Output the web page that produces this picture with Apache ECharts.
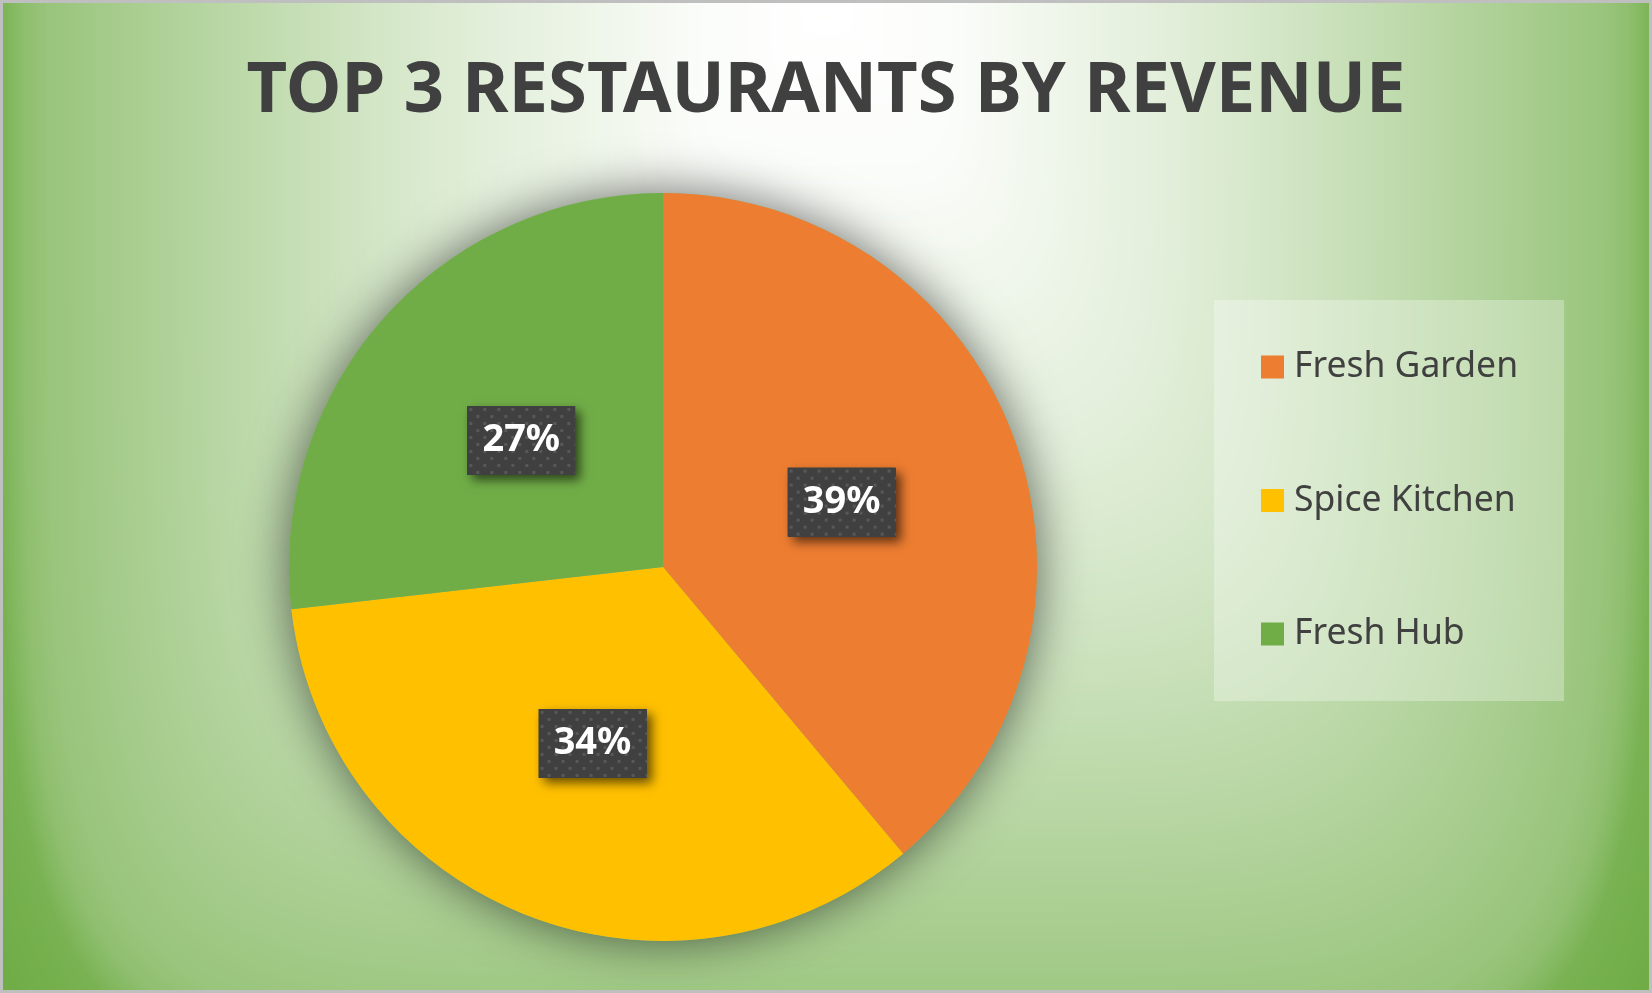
<!DOCTYPE html>
<html>
<head>
<meta charset="utf-8">
<script src="https://cdn.jsdelivr.net/npm/echarts@6/dist/echarts.min.js"></script>
<style>
  html, body { margin: 0; padding: 0; background: #bfbfbf; }
  #chart { position: absolute; left: 3px; top: 3px; width: 1646px; height: 987px; }
</style>
</head>
<body>
<div id="chart"></div>
<script>
const titleText = 'TOP 3 RESTAURANTS BY REVENUE';
const categories = ['Fresh Garden', 'Spice Kitchen', 'Fresh Hub'];
const values = [38.9, 34.3, 26.8];
const colors = ['#ed7d31', '#ffc000', '#70ad47'];

const W = 1646, H = 987;

// background: soft path gradient (white at top centre to green at the edges)
const bg = document.createElement('canvas');
bg.width = W; bg.height = H;
(function () {
  const ctx = bg.getContext('2d');
  const img = ctx.createImageData(W, H);
  const d = img.data;
  const cx = 823, cy = -3, A = 826, B = 1100, p = 6;
  const tS = [0, 0.15, 0.41, 0.55, 0.663, 0.77, 0.866, 0.94, 0.97, 0.99, 1.0, 1.06];
  const sS = [1, 0.97, 0.8, 0.69, 0.58, 0.47, 0.37, 0.29, 0.22, 0.12, 0.06, 0];
  const G = [0x70, 0xad, 0x47];
  function sOf(t) {
    if (t >= tS[tS.length - 1]) return 0;
    for (let i = 1; i < tS.length; i++) {
      if (t <= tS[i]) {
        const f = (t - tS[i - 1]) / (tS[i] - tS[i - 1]);
        return sS[i - 1] + (sS[i] - sS[i - 1]) * f;
      }
    }
    return 0;
  }
  let k = 0;
  for (let y = 0; y < H; y++) {
    const vy = Math.pow(Math.abs(y - cy) / B, p);
    for (let x = 0; x < W; x++) {
      const t = Math.pow(Math.pow(Math.abs(x - cx) / A, p) + vy, 1 / p);
      const s = sOf(t);
      d[k++] = G[0] + (255 - G[0]) * s;
      d[k++] = G[1] + (255 - G[1]) * s;
      d[k++] = G[2] + (255 - G[2]) * s;
      d[k++] = 255;
    }
  }
  ctx.putImageData(img, 0, 0);
})();

// dotted label background
const lblBg = document.createElement('canvas');
lblBg.width = 108; lblBg.height = 69;
(function () {
  const ctx = lblBg.getContext('2d');
  ctx.fillStyle = '#404040';
  ctx.fillRect(0, 0, 108, 69);
  ctx.fillStyle = '#585858';
  for (let r = 0; r * 7 + 2 < 69; r++) {
    for (let x = 2 + (r % 2) * 7; x < 108; x += 14) {
      ctx.fillRect(x, 2 + r * 7, 3, 3);
    }
  }
})();

const chart = echarts.init(document.getElementById('chart'), null, { renderer: 'canvas' });
const center = [660, 564];
const radius = 374;

chart.setOption({
  animation: false,
  backgroundColor: 'transparent',
  graphic: [
    { type: 'image', left: 0, top: 0, z: -100, silent: true,
      style: { image: bg, x: 0, y: 0, width: W, height: H } }
  ],
  title: {
    text: titleText,
    left: 'center',
    top: 53,
    padding: 0,
    textStyle: {
      fontFamily: 'Noto Sans', fontWeight: 'bold', fontSize: 70.5, lineHeight: 71, color: '#404040'
    }
  },
  legend: {
    data: categories,
    orient: 'vertical',
    left: 1211,
    top: 297,
    padding: [47, 46, 47, 47],
    itemGap: 93.5,
    itemWidth: 23,
    itemHeight: 23,
    icon: 'rect',
    backgroundColor: 'rgba(255,255,255,0.3)',
    textStyle: {
      fontFamily: 'Noto Sans', fontSize: 35.5, lineHeight: 40, color: '#404040',
      width: 222, padding: [0, 0, 0, 5]
    }
  },
  series: [
    {
      type: 'pie',
      silent: true,
      z: 1,
      center: center,
      radius: radius,
      label: { show: false },
      labelLine: { show: false },
      itemStyle: { color: '#8fb57a', shadowBlur: 50, shadowColor: 'rgba(0,0,0,0.58)' },
      data: [{ value: 1, name: '__shadow' }]
    },
    {
      type: 'pie',
      z: 2,
      center: center,
      radius: radius,
      startAngle: 90,
      clockwise: true,
      color: colors,
      itemStyle: { borderWidth: 0 },
      label: {
        show: true,
        position: 'inside',
        formatter: p => '{t|' + Math.round(p.percent) + '%}',
        padding: 0,
        backgroundColor: '#404040',
        shadowColor: 'rgba(0,0,0,0.6)',
        shadowBlur: 10,
        shadowOffsetX: 5,
        shadowOffsetY: 5,
        rich: {
          t: {
            fontFamily: 'Noto Sans',
            fontWeight: 'bold',
            fontSize: 38,
            color: '#ffffff',
            width: 108,
            height: 69,
            lineHeight: 69,
            align: 'center',
            padding: 0,
            backgroundColor: { image: lblBg }
          }
        }
      },
      labelLine: { show: false },
      emphasis: { disabled: true },
      data: categories.map((c, i) => ({ name: c, value: values[i] }))
    }
  ]
});
</script>
</body>
</html>
